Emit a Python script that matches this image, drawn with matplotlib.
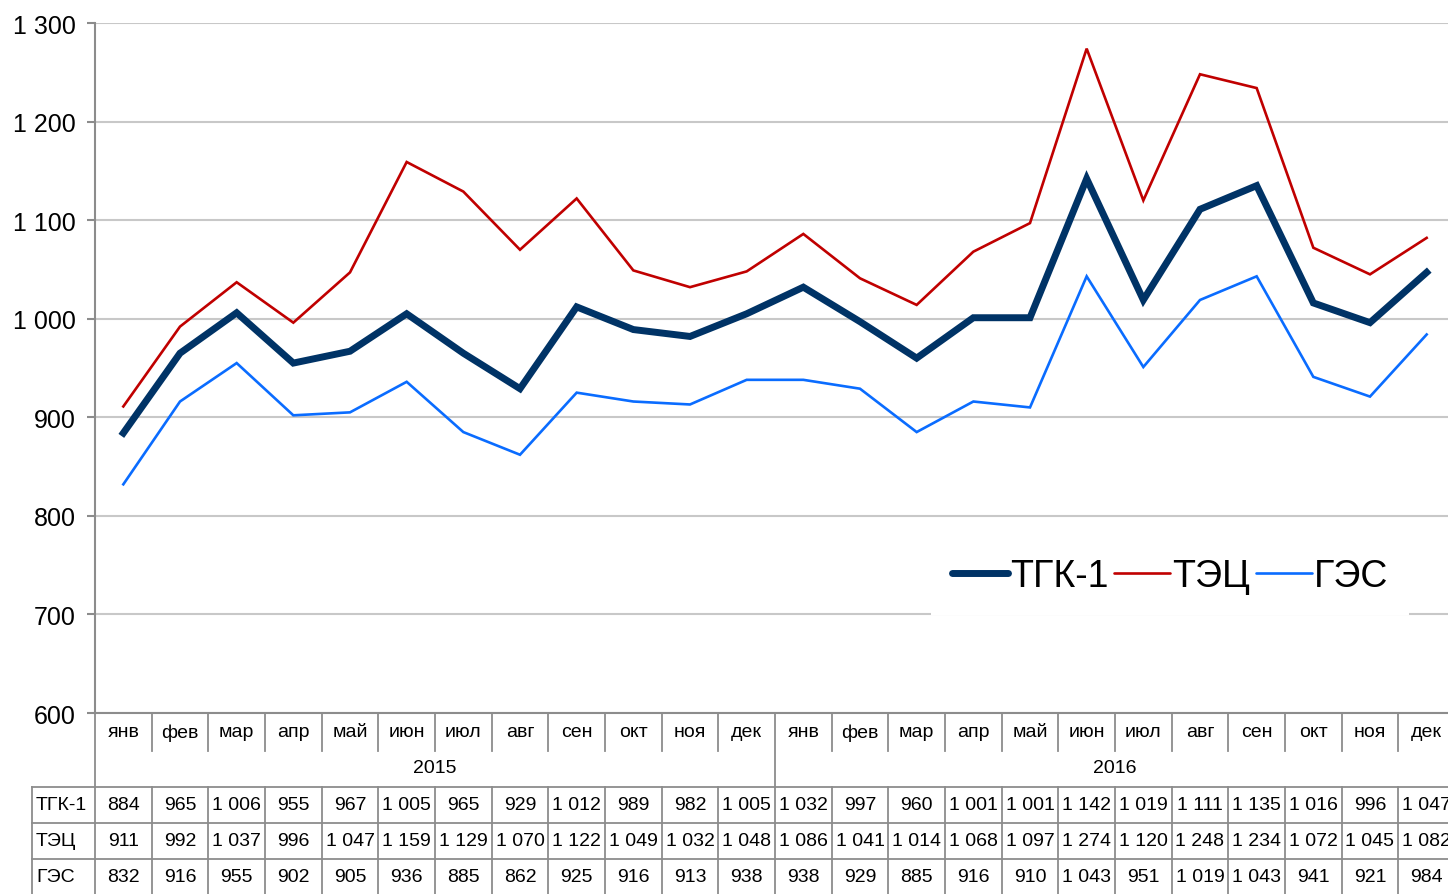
"""ТГК-1 / ТЭЦ / ГЭС monthly line chart with an Excel-style data table below."""

import matplotlib

matplotlib.use("Agg")
import matplotlib.pyplot as plt  # noqa: E402
from matplotlib import transforms  # noqa: E402

plt.rcParams["font.family"] = ["Liberation Sans Narrow", "Liberation Sans", "DejaVu Sans"]

months = ["янв", "фев", "мар", "апр", "май", "июн", "июл", "авг", "сен", "окт", "ноя", "дек"] * 2
years = ["2015", "2016"]

series_names = ["ТГК-1", "ТЭЦ", "ГЭС"]
tgk1 = [884, 965, 1006, 955, 967, 1005, 965, 929, 1012, 989, 982, 1005,
        1032, 997, 960, 1001, 1001, 1142, 1019, 1111, 1135, 1016, 996, 1047]
tec = [911, 992, 1037, 996, 1047, 1159, 1129, 1070, 1122, 1049, 1032, 1048,
       1086, 1041, 1014, 1068, 1097, 1274, 1120, 1248, 1234, 1072, 1045, 1082]
ges = [832, 916, 955, 902, 905, 936, 885, 862, 925, 916, 913, 938,
       938, 929, 885, 916, 910, 1043, 951, 1019, 1043, 941, 921, 984]

colors = ["#003366", "#C00000", "#0A6CFF"]
widths = [5.0, 1.9, 1.9]

W, H = 1448, 895
AX_LEFT, AX_W = 95, 1360  # plot area runs a little past the right edge
GRID = "#C8C8C8"
EDGE = "#8C8C8C"
TFS = 14  # table font size


def fy(py):
    return 1 - py / H


def fmt(v):
    return f"{v:,}".replace(",", " ")


fig = plt.figure(figsize=(W / 100, H / 100), dpi=100)
ax = fig.add_axes([AX_LEFT / W, fy(714), AX_W / W, (714 - 24) / H])

n = len(months)
xs = list(range(n))
for vals, name, c, lw in zip([tgk1, tec, ges], series_names, colors, widths):
    ax.plot(xs, vals, color=c, lw=lw, label=name, solid_joinstyle="miter", zorder=3)

ax.set_xlim(-0.5, n - 0.5)
ax.set_ylim(600, 1300)
ax.set_yticks(range(600, 1301, 100))
ax.set_yticklabels([fmt(v) for v in range(600, 1301, 100)], fontsize=18)
ax.yaxis.grid(True, color=GRID, lw=1.5)
ax.set_axisbelow(True)
ax.set_xticks([])
for s in ["top", "right"]:
    ax.spines[s].set_visible(False)
for s in ["left", "bottom"]:
    ax.spines[s].set_color(EDGE)
    ax.spines[s].set_linewidth(1.5)
ax.tick_params(axis="y", length=6, color=EDGE, width=1.5, pad=8)

# data table below the plot: x in data units, y in figure fraction
tr = transforms.blended_transform_factory(ax.transData, fig.transFigure)
px = n / AX_W  # data units per pixel
line_kw = dict(color=EDGE, lw=1.3, transform=tr, clip_on=False)

# month row
for i, m in enumerate(months):
    fig.text(i, fy(733), m, transform=tr, ha="center", va="center", fontsize=TFS)
for i in range(n - 1):
    x = i + 0.5
    bottom = 788 if i == 11 else 752
    fig.add_artist(plt.Line2D([x, x], [fy(714), fy(bottom)], **line_kw))
fig.add_artist(plt.Line2D([-0.5, -0.5], [fy(714), fy(895)], **line_kw))

# year row
for k, yr in enumerate(years):
    fig.text(12 * k + 5.5, fy(769), yr, transform=tr, ha="center", va="center", fontsize=TFS)

# data rows
left = -0.5 - 63 * px
row_tops = [788, 824, 860]
for top in row_tops:
    fig.add_artist(plt.Line2D([left, n - 0.5], [fy(top), fy(top)], **line_kw))
fig.add_artist(plt.Line2D([left, left], [fy(788), fy(895)], **line_kw))
for i in range(n):
    x = i + 0.5
    fig.add_artist(plt.Line2D([x, x], [fy(788), fy(895)], **line_kw))

for r, (vals, name) in enumerate(zip([tgk1, tec, ges], series_names)):
    yc = fy(row_tops[r] + 18)
    fig.text(left + 4 * px, yc, name, transform=tr, ha="left", va="center", fontsize=TFS)
    for i, v in enumerate(vals):
        fig.text(i, yc, fmt(v), transform=tr, ha="center", va="center", fontsize=TFS)

leg = ax.legend(loc="center", bbox_to_anchor=(1170 / W, fy(577)), bbox_transform=fig.transFigure,
                ncol=3, frameon=True, fontsize=27, handlelength=1.5, handletextpad=0.05,
                columnspacing=0.15, borderpad=0.55, fancybox=False)
leg.get_frame().set_edgecolor("none")
leg.get_frame().set_facecolor("white")
leg.get_frame().set_alpha(1)
for h in leg.get_lines():
    h.set_solid_capstyle("round")

fig.savefig("out.png", dpi=100)
